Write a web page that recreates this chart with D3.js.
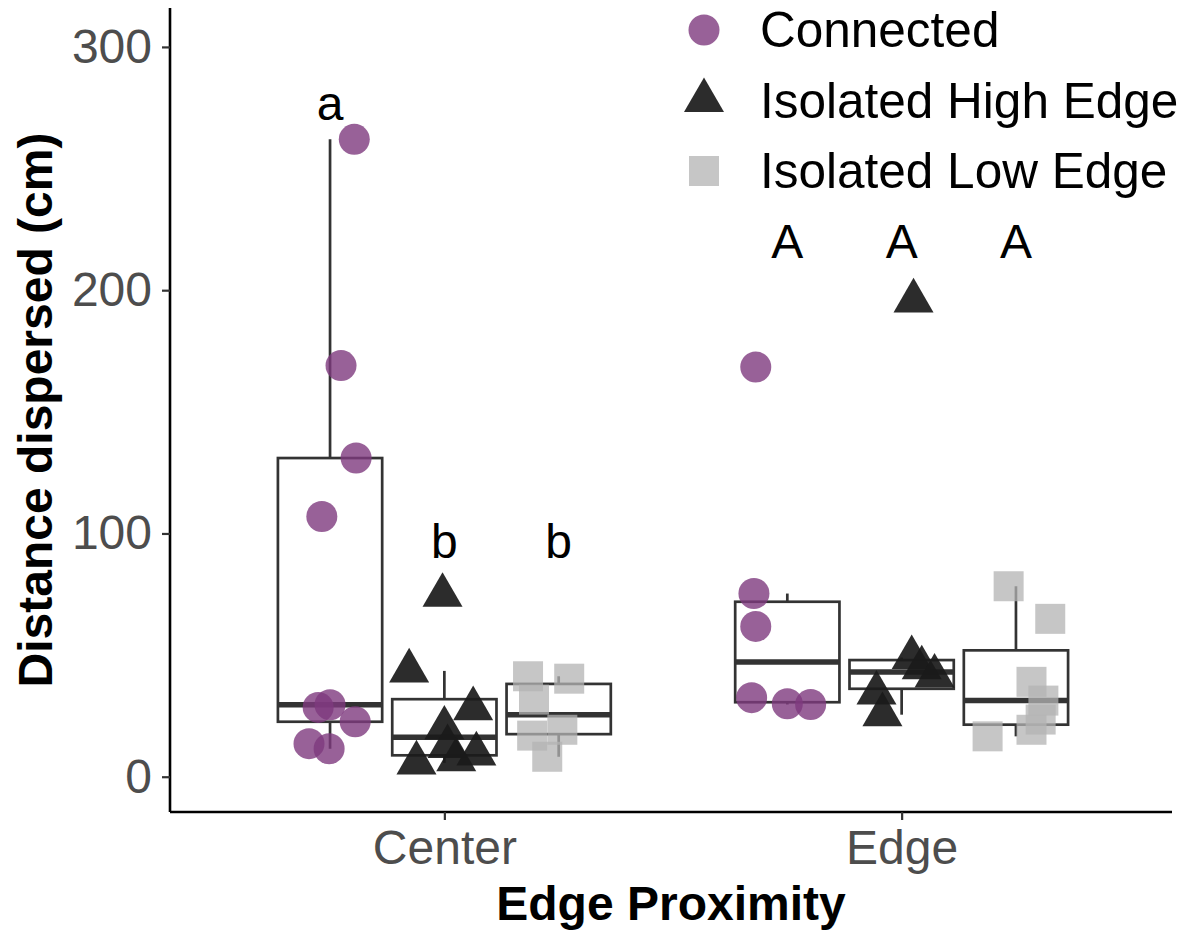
<!DOCTYPE html>
<html>
<head>
<meta charset="utf-8">
<script src="https://cdn.jsdelivr.net/npm/d3@7"></script>
<style>
  html, body { margin: 0; padding: 0; background: #fff; }
  svg { display: block; }
  text { font-family: "Liberation Sans", Arial, Helvetica, sans-serif; }
</style>
</head>
<body>
<svg id="chart" width="1188" height="934"></svg>
<script>
// ---------- data ----------
const categories = ["Center", "Edge"];
const treatments = ["Connected", "Isolated High Edge", "Isolated Low Edge"];
const yTicks = [0, 100, 200, 300];

const connectedCenter = [262, 169, 131, 107, 28.5, 29.6, 22.6, 13.6, 11.5];
const connectedCenterJitter = [0.053, 0.024, 0.057, -0.018, -0.026, 0.0, 0.055, -0.046, -0.002];
const highCenter = [74.6, 43.5, 28, 20, 12.4, 9.4, 7, 5.7];
const highCenterJitter = [-0.004, -0.077, 0.063, 0.0, 0.007, 0.07, 0.026, -0.061];
const lowCenter = [41.3, 40.3, 31.7, 16.9, 19.3, 8.2];
const lowCenterJitter = [-0.067, 0.023, -0.054, -0.058, 0.008, -0.025];

const connectedEdge = [168.4, 75.3, 61.8, 32.5, 30, 29.7];
const connectedEdgeJitter = [-0.069, -0.073, -0.069, -0.078, 0.0, 0.051];
const highEdge = [195.6, 49, 44.8, 41.4, 34.4, 25.5];
const highEdgeJitter = [0.026, 0.022, 0.044, 0.072, -0.055, -0.042];
const lowEdge = [78.3, 64.9, 39, 31.3, 23.5, 19.3, 16.6];
const lowEdgeJitter = [-0.016, 0.075, 0.034, 0.06, 0.054, 0.034, -0.062];

const letterLabels = ["a", "b", "b", "A", "A", "A"];
const letterCategory = ["Center", "Center", "Center", "Edge", "Edge", "Edge"];
const letterTreatment = ["Connected", "Isolated High Edge", "Isolated Low Edge", "Connected", "Isolated High Edge", "Isolated Low Edge"];
const letterY = [277, 97, 97, 220, 220, 220];

(function () {
// ---------- build groups ----------
const groupsData = [
  { cat: "Center", trt: "Connected", values: connectedCenter, jitter: connectedCenterJitter },
  { cat: "Center", trt: "Isolated High Edge", values: highCenter, jitter: highCenterJitter },
  { cat: "Center", trt: "Isolated Low Edge", values: lowCenter, jitter: lowCenterJitter },
  { cat: "Edge", trt: "Connected", values: connectedEdge, jitter: connectedEdgeJitter },
  { cat: "Edge", trt: "Isolated High Edge", values: highEdge, jitter: highEdgeJitter },
  { cat: "Edge", trt: "Isolated Low Edge", values: lowEdge, jitter: lowEdgeJitter }
];

// ---------- layout ----------
const svg = d3.select("#chart");
const pL = 170, pR = 1176, pT = 8, pB = 812, axisEnd = 1172;
const FONT = 48;
const LEGEND_FONT = 49.5;

const x = d3.scaleLinear().domain([0.4, 2.6]).range([pL, pR]);
const y = d3.scaleLinear().domain([-14.5, 316]).range([pB, pT]);
const dodge = d3.scaleOrdinal().domain(treatments).range([-0.25, 0, 0.25]);
const catIndex = c => categories.indexOf(c) + 1;
const boxHalf = 0.114;

const fillColor = d3.scaleOrdinal().domain(treatments).range(["#7e3a7e", "#1a1a1a", "#b3b3b3"]);
const fillOpacity = d3.scaleOrdinal().domain(treatments).range([0.8, 0.92, 0.75]);
const symbolType = d3.scaleOrdinal().domain(treatments).range([d3.symbolCircle, d3.symbolTriangle, d3.symbolSquare]);
const symbolSize = d3.scaleOrdinal().domain(treatments).range([Math.PI * 15.5 * 15.5, 693, 900]);

// ---------- boxes ----------
const boxG = svg.append("g");
groupsData.forEach(g => {
  const s = g.values.slice().sort(d3.ascending);
  const q1 = d3.quantile(s, 0.25), med = d3.quantile(s, 0.5), q3 = d3.quantile(s, 0.75);
  const iqr = q3 - q1;
  const hiW = d3.max(s.filter(v => v <= q3 + 1.5 * iqr));
  const loW = d3.min(s.filter(v => v >= q1 - 1.5 * iqr));
  const cx = catIndex(g.cat) + dodge(g.trt);
  const x0 = x(cx - boxHalf), x1 = x(cx + boxHalf), xm = x(cx);
  boxG.append("line").attr("x1", xm).attr("x2", xm).attr("y1", y(q3)).attr("y2", y(hiW))
    .attr("stroke", "#333").attr("stroke-width", 2.7);
  boxG.append("line").attr("x1", xm).attr("x2", xm).attr("y1", y(q1)).attr("y2", y(loW))
    .attr("stroke", "#333").attr("stroke-width", 2.7);
  boxG.append("rect").attr("x", x0).attr("y", y(q3)).attr("width", x1 - x0).attr("height", y(q1) - y(q3))
    .attr("fill", "#fff").attr("stroke", "#333").attr("stroke-width", 2.7);
  boxG.append("line").attr("x1", x0).attr("x2", x1).attr("y1", y(med)).attr("y2", y(med))
    .attr("stroke", "#333").attr("stroke-width", 5.5);
});

// ---------- points ----------
const ptG = svg.append("g");
groupsData.forEach(g => {
  const cx = catIndex(g.cat) + dodge(g.trt);
  g.values.forEach((v, i) => {
    ptG.append("path")
      .attr("d", d3.symbol().type(symbolType(g.trt)).size(symbolSize(g.trt))())
      .attr("transform", `translate(${x(cx + g.jitter[i])},${y(v)})`)
      .attr("fill", fillColor(g.trt))
      .attr("fill-opacity", fillOpacity(g.trt));
  });
});

// ---------- letters ----------
letterLabels.forEach((t, i) => {
  svg.append("text")
    .attr("x", x(catIndex(letterCategory[i]) + dodge(letterTreatment[i])))
    .attr("y", y(letterY[i]))
    .attr("dy", "0.35em")
    .attr("text-anchor", "middle")
    .attr("font-size", FONT)
    .attr("fill", "#000")
    .text(t);
});

// ---------- axes ----------
const yAxis = svg.append("g").attr("transform", `translate(${pL},0)`)
  .call(d3.axisLeft(y).tickValues(yTicks).tickSize(8).tickPadding(10).tickSizeOuter(0));
const xAxis = svg.append("g").attr("transform", `translate(0,${pB})`)
  .call(d3.axisBottom(x).tickValues([1, 2]).tickFormat(d => categories[d - 1]).tickSize(8).tickPadding(10).tickSizeOuter(0));
[yAxis, xAxis].forEach(a => {
  a.select(".domain").attr("stroke", "#000").attr("stroke-width", 2.6);
  a.selectAll(".tick line").attr("stroke", "#333").attr("stroke-width", 2.2);
  a.selectAll(".tick text").attr("font-size", FONT).attr("fill", "#4d4d4d")
    .attr("font-family", "Liberation Sans, Arial, sans-serif");
});
yAxis.select(".domain").attr("d", `M0,${pB}V${pT}`);
xAxis.select(".domain").attr("d", `M${pL},0H${axisEnd}`);

// axis titles
svg.append("text")
  .attr("transform", `translate(52,${(pT + pB) / 2}) rotate(-90)`)
  .attr("text-anchor", "middle")
  .attr("font-size", FONT).attr("font-weight", "bold").attr("fill", "#000")
  .text("Distance dispersed (cm)");
svg.append("text")
  .attr("x", (pL + axisEnd) / 2).attr("y", 920)
  .attr("text-anchor", "middle")
  .attr("font-size", FONT).attr("font-weight", "bold").attr("fill", "#000")
  .text("Edge Proximity");

// ---------- legend ----------
const legend = svg.append("g");
treatments.forEach((t, i) => {
  const ly = 30 + i * 70.5;
  legend.append("path")
    .attr("d", d3.symbol().type(symbolType(t)).size(symbolSize(t))())
    .attr("transform", `translate(704,${ly})`)
    .attr("fill", fillColor(t)).attr("fill-opacity", fillOpacity(t));
  legend.append("text")
    .attr("x", 760).attr("y", ly).attr("dy", "0.35em")
    .attr("font-size", LEGEND_FONT).attr("fill", "#000")
    .text(t);
});
})();
</script>
</body>
</html>
